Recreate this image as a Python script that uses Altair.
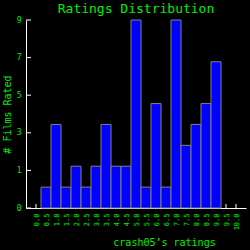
import altair as alt
import pandas as pd

ratings = [0.5, 1.0, 1.5, 2.0, 2.5, 3.0, 3.5, 4.0, 4.5, 5.0, 5.5, 6.0, 6.5, 7.0, 7.5, 8.0, 8.5, 9.0]
counts = [1, 4, 1, 2, 1, 2, 4, 2, 2, 9, 1, 5, 1, 9, 3, 4, 5, 7]
x_ticks = [i * 0.5 for i in range(21)]
y_ticks = [0, 1.8, 3.6, 5.4, 7.2, 9]
title_text = "Ratings Distribution"

GREEN = "#00ee00"
FONT = "DejaVu Sans Mono"
W, H = 220, 188

bars_df = pd.DataFrame({"rating": ratings, "count": counts})
xt_df = pd.DataFrame({"v": x_ticks})
yt_df = pd.DataFrame({"v": y_ticks})
title_df = pd.DataFrame({"t": [title_text]})

xscale = alt.Scale(domain=[-0.5, 10.5], nice=False, zero=False)
yscale = alt.Scale(domain=[0, 9], nice=False)

xaxis = alt.Axis(
    values=x_ticks, format=".1f", labelAngle=270, labelAlign="right", labelBaseline="middle",
    labelColor=GREEN, labelFont=FONT, labelFontSize=7, labelPadding=5, tickSize=0,
    domainColor="white", grid=False, title="crash05\u2019s ratings", titleColor=GREEN,
    titleFont=FONT, titleFontSize=10, titleFontWeight="normal", titleX=138, titleY=37,
    titleAlign="center", titleBaseline="alphabetic", labelOverlap=False, labelFlush=False,
)
yaxis = alt.Axis(
    values=y_ticks, labelExpr="floor(datum.value)", labelColor=GREEN, labelFont=FONT,
    labelFontSize=8, labelPadding=5, tickSize=0, domainColor="white", grid=False,
    title="# Films Rated", titleColor=GREEN, titleFont=FONT, titleFontSize=10,
    titleFontWeight="normal", titleX=-19, titleY=94, titleAlign="center",
    titleBaseline="middle", labelFlush=False, labelOverlap=False,
)

xticks = alt.Chart(xt_df).mark_rule(color="white", strokeWidth=1).encode(
    x=alt.X("v:Q", scale=xscale, axis=xaxis),
    y=alt.value(H), y2=alt.value(H - 4),
)
yticks = alt.Chart(yt_df).mark_rule(color="white", strokeWidth=1).encode(
    y=alt.Y("v:Q", scale=yscale, axis=yaxis),
    x=alt.value(0), x2=alt.value(5),
)
bars = alt.Chart(bars_df).transform_calculate(
    x0="datum.rating - 0.25", x1="datum.rating + 0.25"
).mark_bar(color="#0000ff", stroke="#808080", strokeWidth=1).encode(
    x=alt.X("x0:Q", scale=xscale, axis=xaxis),
    x2="x1:Q",
    y=alt.Y("count:Q", scale=yscale, axis=yaxis),
    y2=alt.datum(0),
)
title = alt.Chart(title_df).mark_text(
    color=GREEN, font=FONT, fontSize=13, align="center", baseline="alphabetic"
).encode(x=alt.value(W / 2), y=alt.value(-7), text="t:N")

chart = alt.layer(xticks, yticks, bars, title).properties(
    width=W, height=H,
    background="black",
    autosize=alt.AutoSizeParams(type="none"),
    padding={"left": 26, "top": 20, "right": 4, "bottom": 42},
).configure_view(stroke=None)

chart.save("out.html", embed_options={"renderer": "svg", "actions": False})
